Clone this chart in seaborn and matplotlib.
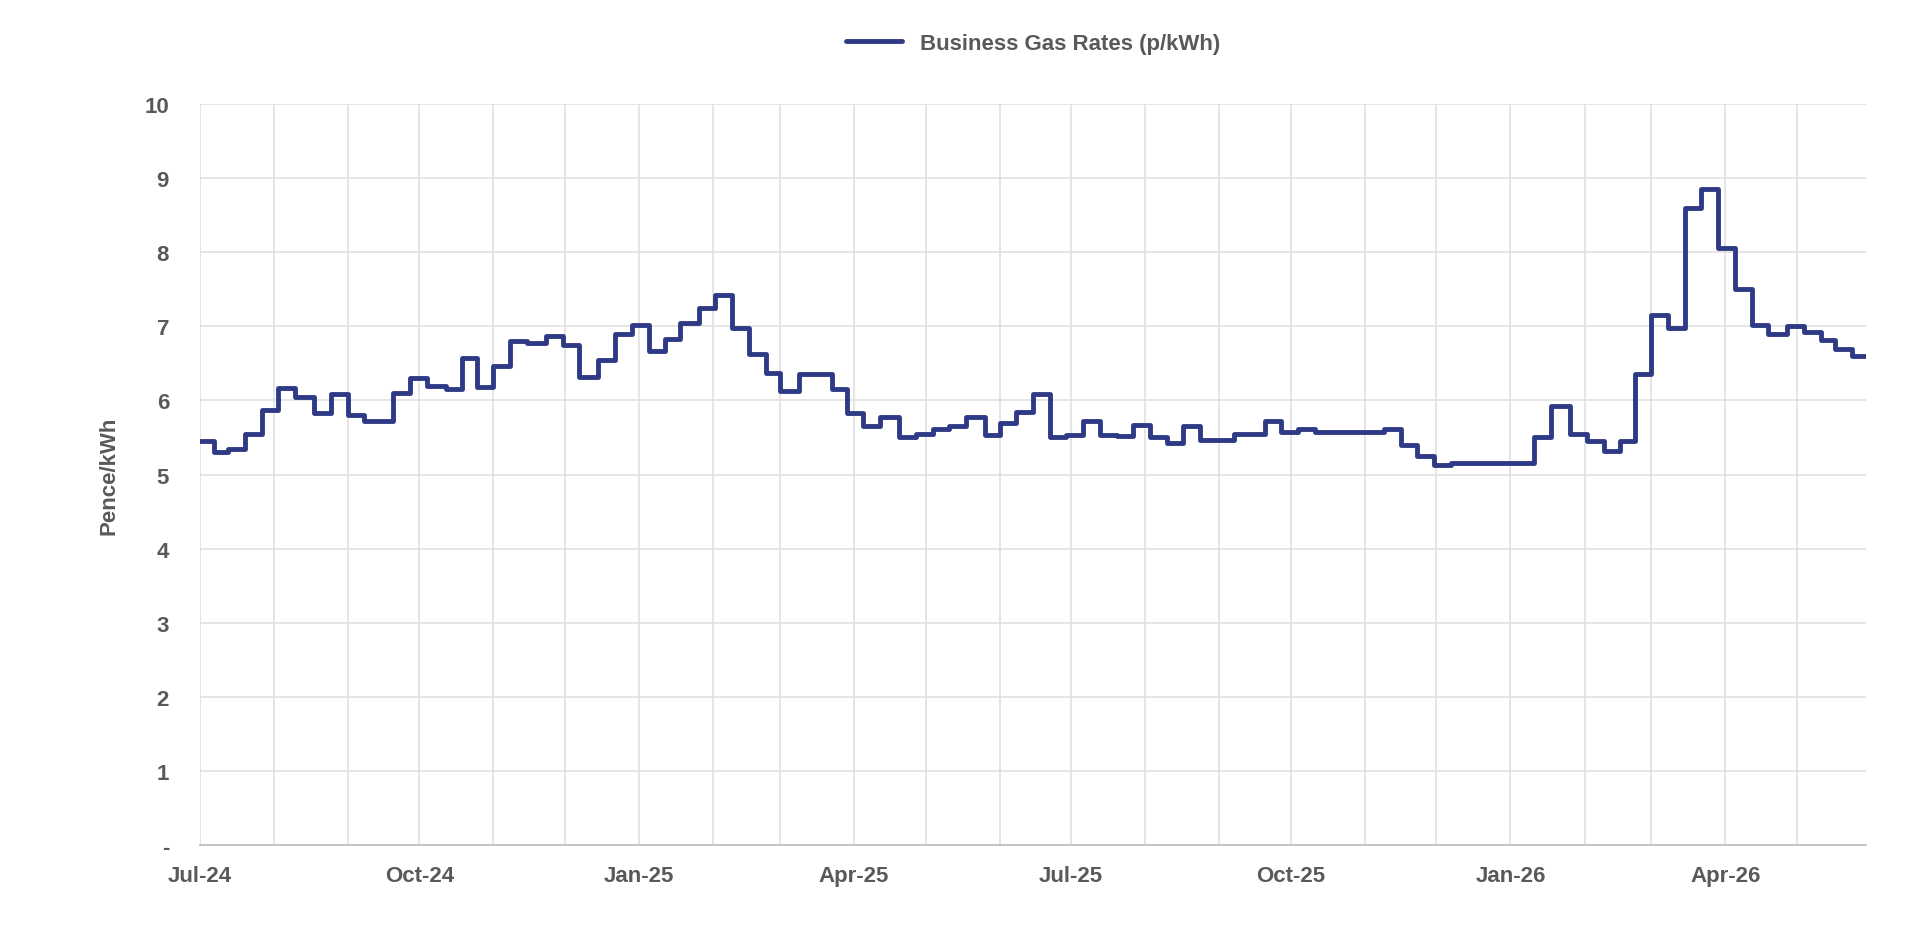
import matplotlib
matplotlib.use("Agg")
import matplotlib.pyplot as plt
import matplotlib.dates as mdates
import seaborn as sns
import pandas as pd
import numpy as np

start_date = "2024-07-01"
day_offsets = [0, 6, 12, 19, 26, 33, 40, 48, 55, 62, 69, 81, 88, 95, 103, 110, 116, 123, 130, 137,
               145, 152, 159, 167, 174, 181, 188, 195, 201, 209, 216, 223, 230, 237, 243, 251, 265,
               271, 278, 285, 293, 300, 307, 314, 321, 329, 335, 342, 349, 356, 363, 370, 377, 384,
               391, 398, 405, 412, 419, 433, 446, 453, 460, 467, 496, 503, 510, 517, 524, 552, 559,
               566, 574, 581, 588, 595, 601, 608, 615, 622, 629, 636, 643, 650, 657, 665, 672, 679,
               685, 692, 698]
rates = [5.45, 5.3, 5.35, 5.55, 5.87, 6.17, 6.05, 5.83, 6.08, 5.8, 5.72, 6.1, 6.3, 6.2, 6.15, 6.57,
         6.18, 6.47, 6.8, 6.78, 6.87, 6.75, 6.32, 6.55, 6.9, 7.02, 6.67, 6.83, 7.05, 7.25, 7.42,
         6.97, 6.63, 6.37, 6.13, 6.35, 6.15, 5.83, 5.65, 5.78, 5.5, 5.55, 5.62, 5.65, 5.77, 5.53,
         5.7, 5.85, 6.08, 5.5, 5.53, 5.72, 5.53, 5.52, 5.67, 5.5, 5.42, 5.65, 5.47, 5.55, 5.72,
         5.57, 5.62, 5.57, 5.62, 5.4, 5.25, 5.13, 5.16, 5.15, 5.5, 5.93, 5.55, 5.45, 5.32, 5.45,
         6.35, 7.15, 6.97, 8.6, 8.85, 8.05, 7.5, 7.02, 6.9, 7.0, 6.92, 6.82, 6.7, 6.6, 6.6]
series_name = "Business Gas Rates (p/kWh)"
y_label = "Pence/kWh"

dates = pd.Timestamp(start_date) + pd.to_timedelta(day_offsets, unit="D")
df = pd.DataFrame({"date": dates, "rate": rates})

sns.set_theme(style="white")
plt.rcParams["font.family"] = ["Liberation Sans", "DejaVu Sans"]
grey = "#595959"
color = "#2F3A86"

fig = plt.figure(figsize=(19.2, 9.53), dpi=100)
ax = fig.add_axes([0.104, 0.112, 0.868, 0.778])
sns.lineplot(data=df, x="date", y="rate", ax=ax, drawstyle="steps-post",
             color=color, linewidth=3.5, label=series_name)

ax.set_ylim(0, 10)
ax.set_yticks(range(0, 11))
ax.set_yticklabels(["-"] + [str(i) for i in range(1, 11)])
ax.set_xlim(dates[0], dates[-1])
ax.xaxis.set_major_locator(mdates.MonthLocator(bymonth=[1, 4, 7, 10]))
ax.xaxis.set_major_formatter(mdates.DateFormatter("%b-%y"))
ax.xaxis.set_minor_locator(mdates.MonthLocator())
ax.grid(True, which="both", color="#E0E0E0", linewidth=1.2)
ax.set_axisbelow(True)
for s in ["top", "right", "left"]:
    ax.spines[s].set_visible(False)
ax.spines["bottom"].set_color("#BFBFBF")
ax.tick_params(axis="x", which="major", length=6, color="#BFBFBF", labelsize=16, labelcolor=grey, pad=8)
ax.tick_params(axis="x", which="minor", length=6, color="#BFBFBF")
ax.tick_params(axis="y", length=0, labelsize=16, labelcolor=grey, pad=22)
for t in ax.get_xticklabels() + ax.get_yticklabels():
    t.set_fontweight("bold")
ax.set_xlabel("")
ax.set_ylabel(y_label, fontsize=16, fontweight="bold", color=grey, labelpad=18)

leg = ax.legend(loc="lower center", bbox_to_anchor=(0.5, 1.04), frameon=False,
                prop={"size": 16, "weight": "bold"}, handlelength=2.5)
for t in leg.get_texts():
    t.set_color(grey)

fig.savefig("out.png", dpi=100, facecolor="white")
